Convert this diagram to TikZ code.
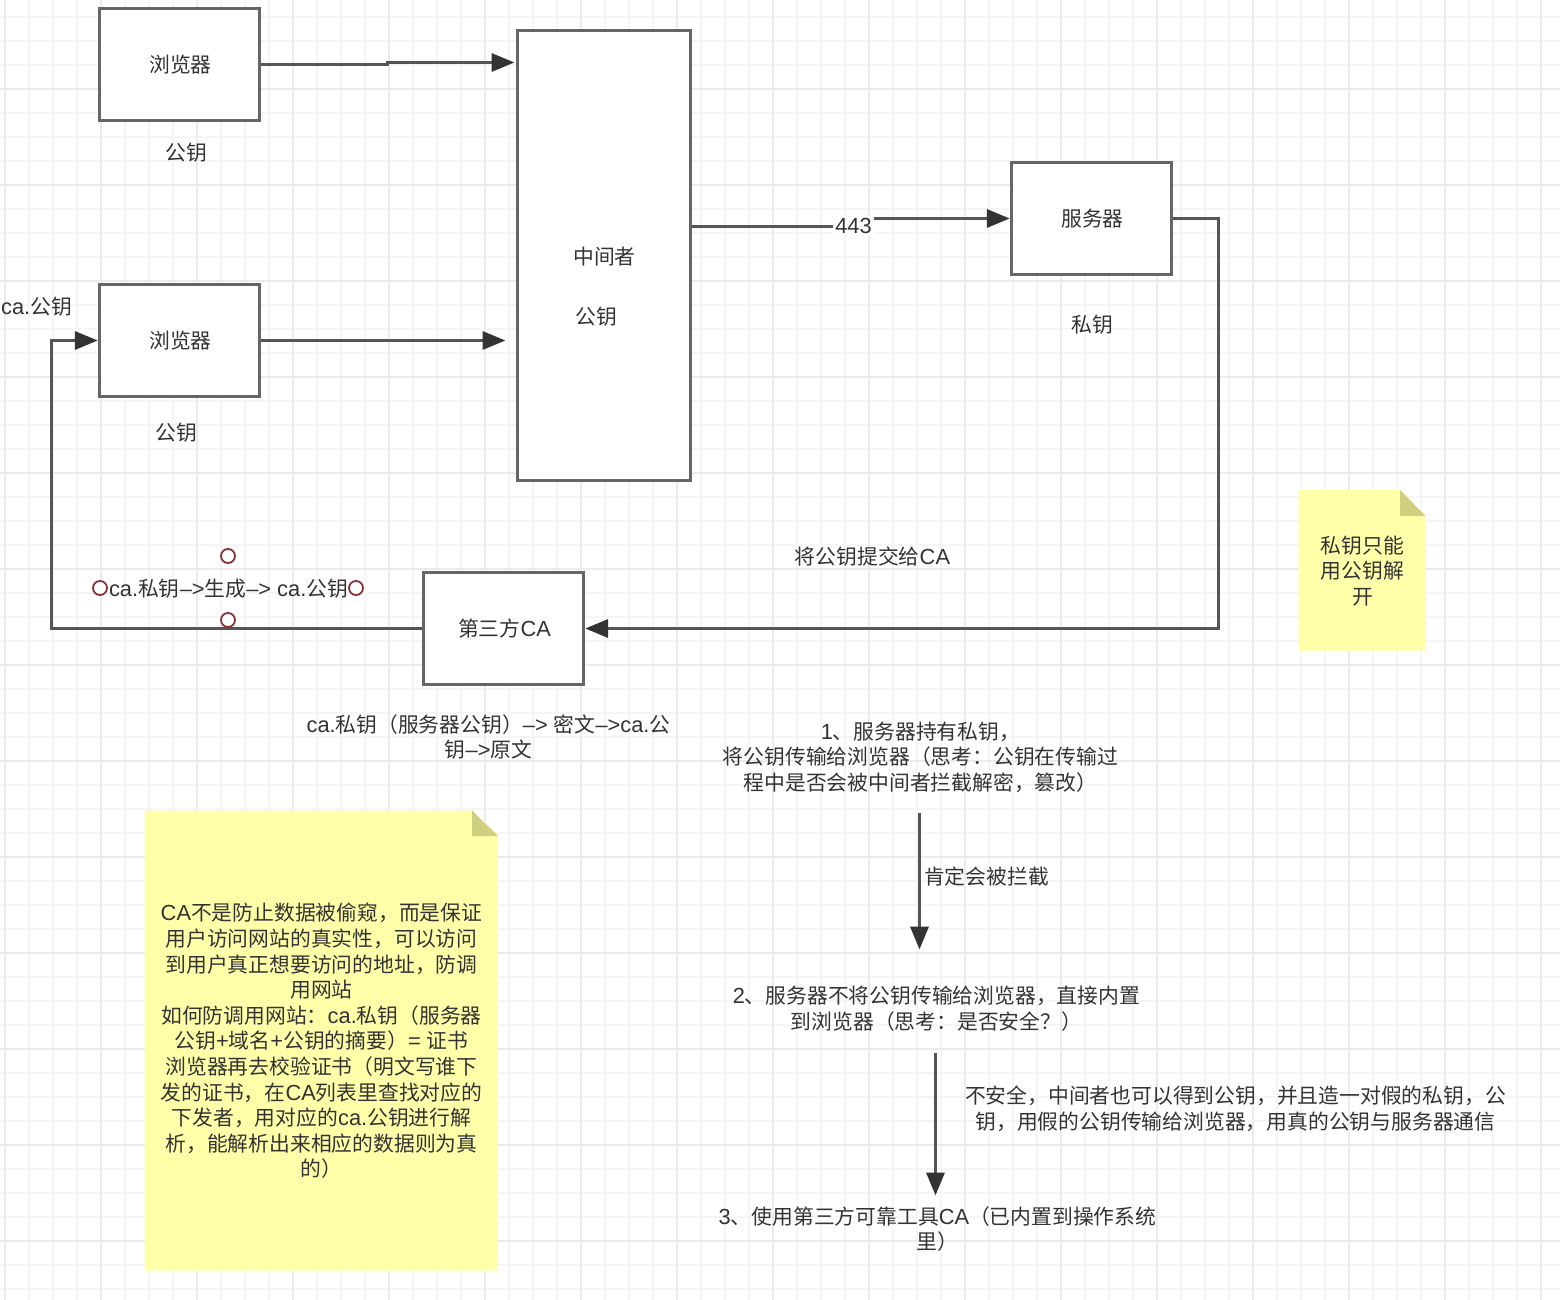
\documentclass[tikz,border=0pt]{standalone}
\usepackage{fontspec}
\setmainfont[Scale=1.05]{Liberation Sans}
\newfontfamily\cjk{Noto Sans CJK SC}
\newcommand{\z}[1]{{\cjk #1}}
\newcommand{\bx}[1]{\hspace*{1pt}\raisebox{-0.25pt}{#1}}
\usetikzlibrary{arrows.meta}
\definecolor{txt}{HTML}{333333}
\definecolor{edge}{HTML}{666666}
\definecolor{conn}{HTML}{555555}
\definecolor{tipc}{HTML}{333333}
\definecolor{note}{HTML}{FFFFA9}
\definecolor{fold}{HTML}{CFCF80}
\definecolor{gmin}{HTML}{F5F5F5}
\definecolor{gmaj}{HTML}{EBEBEB}
\definecolor{ring}{HTML}{8A2F32}
\tikzset{
  box/.style={draw=edge,fill=white,line width=1.7pt,minimum width=80pt,minimum height=56pt,inner sep=0pt,text=txt,font=\fontsize{10.4}{12.8}\selectfont,align=center},
  lab/.style={text=txt,font=\fontsize{10.4}{12.8}\selectfont,align=center,inner sep=0pt,xshift=0.25pt,yshift=-0.5pt},
  wire/.style={draw=conn,line width=1.7pt,line join=miter},
  tipped/.style={wire,-{Triangle[length=11.5pt,width=9pt,color=tipc]}},
  hnd/.style={circle,draw=ring,fill=white,line width=0.9pt,minimum size=7pt,inner sep=0pt},
  notebody/.style={fill=note,draw=none},
  notefold/.style={fill=fold,draw=none}
}
\begin{document}
\begin{tikzpicture}[x=0.5pt,y=-0.5pt]
\useasboundingbox (0,0) rectangle (1560,1300);
\fill[white] (0,0) rectangle (1560,1300);
% grid
\foreach \k in {0,...,65}{
  \draw[gmin,line width=0.8pt] ({5+24*\k},0) -- ({5+24*\k},1300);}
\foreach \k in {0,...,54}{
  \draw[gmin,line width=0.8pt] (0,{17+24*\k}) -- (1560,{17+24*\k});}
\foreach \k in {0,...,16}{
  \draw[gmaj,line width=1pt] ({5+96*\k},0) -- ({5+96*\k},1300);}
\foreach \k in {0,...,13}{
  \draw[gmaj,line width=1pt] (0,{89+96*\k}) -- (1560,{89+96*\k});}
% notes
\fill[notebody] (144.5,810.5) -- (472,810.5) -- (498,836) -- (498,1270.5) -- (144.5,1270.5) -- cycle;
\fill[notefold] (472,810.5) -- (498,836) -- (472,836) -- cycle;
\fill[notebody] (1298.5,490) -- (1400,490) -- (1425.5,516) -- (1425.5,650.5) -- (1298.5,650.5) -- cycle;
\fill[notefold] (1400,490) -- (1425.5,516) -- (1400,516) -- cycle;
\begin{scope}[shift={(-0.5,0.5)}]
% boxes
\node[box] (b1) at (180,64) {\bx{\z{浏览器}}};
\node[box] (b2) at (180,340) {\bx{\z{浏览器}}};
\node[box,minimum width=86.5pt,minimum height=225pt] (mid) at (604.5,255) {};
\node[box] (srv) at (1092,218) {\bx{\z{服务器}}};
\node[box] (ca) at (504,628) {\bx{\z{第三方}CA}};
% free ends and elbows
\coordinate (e1a) at (388,64);
\coordinate (e1b) at (388,62);
\coordinate (e1c) at (515,62);
\coordinate (e2) at (506,340);
\coordinate (elbow) at (853,226);
\coordinate (r1) at (1219,218);
\coordinate (r2) at (1219,628);
\coordinate (l1) at (52,628);
\coordinate (l2) at (52,340);
\coordinate (v1a) at (920,812);
\coordinate (v1b) at (920,949);
\coordinate (v2a) at (936,1052);
\coordinate (v2b) at (936,1195);
% connectors
\draw[tipped] (b1.east) -- (e1a) -- (e1b) -- (e1c);
\draw[tipped] (b2.east) -- (e2);
\draw[tipped] (mid.east |- elbow) -- (elbow) -- (elbow |- srv.west) -- (srv.west);
\draw[tipped] (srv.east) -- (r1) -- (r2) -- (ca.east);
\draw[tipped] (ca.west) -- (l1) -- (l2) -- (b2.west);
\draw[tipped] (v1a) -- (v1b);
\draw[tipped] (v2a) -- (v2b);
\end{scope}
% labels
\node[lab,fill=white,inner xsep=1pt,inner ysep=1pt] (l443) at (853,225) {443};
\node[lab] (pk1) at (186,152) {\z{公钥}};
\node[lab] (pk2) at (176,432) {\z{公钥}};
\node[lab] (capk) at (36,306) {ca.\z{公钥}};
\node[lab] (mn1) at (604,256) {\z{中间者}};
\node[lab] (mn2) at (596,316) {\z{公钥}};
\node[lab] (sk) at (1092,324) {\z{私钥}};
\node[lab] (submit) at (872,556) {\z{将公钥提交给}CA};
\node[lab] (smallnote) at (1362,570) {\z{私钥只能}\\\z{用公钥解}\\\z{开}};
\node[lab] (gen) at (228,588) {ca.\z{私钥}–>\z{生成}–> ca.\z{公钥}};
\node[hnd] (h1) at (228,556) {};
\node[hnd] (h2) at (100,588) {};
\node[hnd] (h3) at (356,588) {};
\node[hnd] (h4) at (228,620) {};
\node[lab] (caenc) at (488,736) {ca.\z{私钥（服务器公钥）}–> \z{密文}–>ca.\z{公}\\\z{钥}–>\z{原文}};
\node[lab] (s1) at (920,756) {1\z{、服务器持有私钥，}\\\z{将公钥传输给浏览器（思考：公钥在传输过}\\\z{程中是否会被中间者拦截解密，篡改）}};
\node[lab] (k1) at (986,876) {\z{肯定会被拦截}};
\node[lab] (s2) at (936,1008) {2\z{、服务器不将公钥传输给浏览器，直接内置}\\\z{到浏览器（思考：是否安全？）}};
\node[lab] (k2) at (1235,1108) {\z{不安全，中间者也可以得到公钥，并且造一对假的私钥，公}\\\z{钥，用假的公钥传输给浏览器，用真的公钥与服务器通信}};
\node[lab] (s3) at (937,1228) {3\z{、使用第三方可靠工具}CA\z{（已内置到操作系统}\\\z{里）}};
\node[lab] (bignote) at (321,1040) {CA\z{不是防止数据被偷窥，而是保证}\\\z{用户访问网站的真实性，可以访问}\\\z{到用户真正想要访问的地址，防调}\\\z{用网站}\\\z{如何防调用网站：}ca.\z{私钥（服务器}\\\z{公钥}+\z{域名}+\z{公钥的摘要）}= \z{证书}\\\z{浏览器再去校验证书（明文写谁下}\\\z{发的证书，在}CA\z{列表里查找对应的}\\\z{下发者，用对应的}ca.\z{公钥进行解}\\\z{析，能解析出来相应的数据则为真}\\\z{的）}};
\end{tikzpicture}
\end{document}
